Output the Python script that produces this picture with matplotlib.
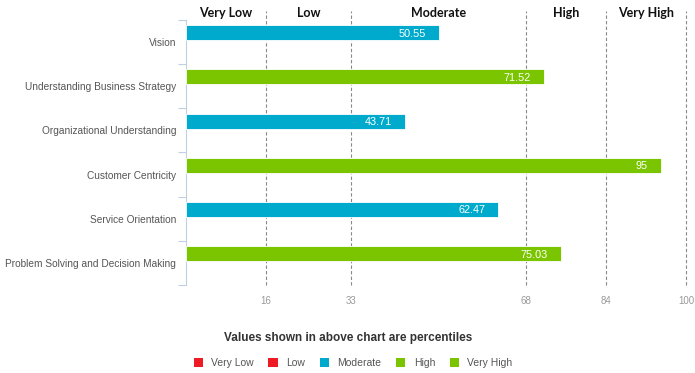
import numpy as np
import matplotlib.pyplot as plt
from matplotlib.patches import Patch

# data
competencies = ["Vision", "Understanding Business Strategy", "Organizational Understanding",
                "Customer Centricity", "Service Orientation", "Problem Solving and Decision Making"]
scores = [50.55, 71.52, 43.71, 95, 62.47, 75.03]
band_edges = [0, 16, 33, 68, 84, 100]
band_names = ["Very Low", "Low", "Moderate", "High", "Very High"]
band_colors = ["#ED1C24", "#ED1C24", "#00AACC", "#7AC400", "#7AC400"]


def band_color(v):
    for i in range(len(band_names)):
        if v <= band_edges[i + 1]:
            return band_colors[i]
    return band_colors[-1]


fig = plt.figure(figsize=(6.95, 3.73), dpi=100)
ax = fig.add_axes([186 / 695, 1 - 285 / 373, 500 / 695, 265 / 373])

y = np.arange(len(competencies))
ax.barh(y - 0.21, scores, height=0.34, color=[band_color(v) for v in scores],
        edgecolor="white", linewidth=0.6, zorder=3)
for yi, v in zip(y, scores):
    ax.text(v - 2.6, yi - 0.21, f"{v:g}", ha="right", va="center_baseline", color="white",
            fontsize=7.8, family="Liberation Sans", zorder=4)

ax.set_xlim(0, 100)
ax.set_ylim(len(competencies) - 0.5, -0.5)

# band boundary lines
for e in band_edges[1:]:
    ax.plot([e, e], [0, 1.035], transform=ax.get_xaxis_transform(), clip_on=False,
            color="#888888", lw=0.8, ls=(0, (3, 2)), zorder=1)

# band names on top
for i, name in enumerate(band_names):
    mid = (band_edges[i] + band_edges[i + 1]) / 2
    ax.text(mid, 1.025, name, transform=ax.get_xaxis_transform(), ha="center", va="center",
            fontsize=9, fontweight="bold", family="Lato", color="#111111",
            bbox=dict(facecolor="white", edgecolor="none", pad=1.5), zorder=5)

ax.set_xticks(band_edges[1:])
ax.set_xticklabels([str(e) for e in band_edges[1:]], fontsize=7, color="#999999",
                   family="Liberation Sans")
ax.tick_params(axis="x", length=0, pad=8)

ax.set_yticks(y)
ax.set_yticklabels(competencies, fontsize=7.3, color="#555555", family="Liberation Sans")
ax.set_yticks(np.arange(len(competencies) + 1) - 0.5, minor=True)
ax.tick_params(axis="y", which="major", length=0, pad=7)
ax.tick_params(axis="y", which="minor", length=6, color="#C0D0E0", width=0.8)

for s in ["top", "right", "bottom"]:
    ax.spines[s].set_visible(False)
ax.spines["left"].set_color("#C0D0E0")
ax.spines["left"].set_linewidth(0.8)

fig.text(348 / 695, 1 - 338 / 373, "Values shown in above chart are percentiles",
         ha="center", va="center", fontsize=8.5, fontweight="bold", color="#333333",
         family="Liberation Sans")

handles = [Patch(facecolor=c, edgecolor="none") for c in band_colors]
fig.legend(handles, band_names, loc="center", bbox_to_anchor=(353 / 695, 1 - 363 / 373),
           ncol=5, frameon=False, handlelength=0.9, handleheight=0.9, handletextpad=0.8,
           columnspacing=1.4, prop={"family": "Liberation Sans", "size": 7.5},
           labelcolor="#555555")

fig.savefig("out.png", dpi=100)
